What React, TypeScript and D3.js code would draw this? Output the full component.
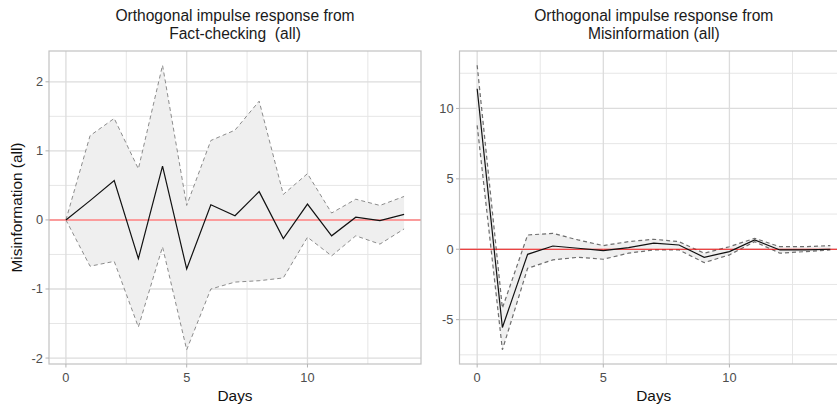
import * as d3 from 'd3'

// impulse horizon (days)
const days = [0, 1, 2, 3, 4, 5, 6, 7, 8, 9, 10, 11, 12, 13, 14]

// response of Misinformation to a Fact-checking shock
const fcIrf = [0, 0.28, 0.57, -0.56, 0.78, -0.71, 0.22, 0.06, 0.41, -0.27, 0.23, -0.23, 0.04, -0.01, 0.08]
const fcLower = [0, -0.67, -0.6, -1.55, -0.39, -1.88, -1.0, -0.9, -0.88, -0.84, -0.25, -0.52, -0.23, -0.35, -0.13]
const fcUpper = [0, 1.22, 1.47, 0.74, 2.24, 0.21, 1.15, 1.3, 1.72, 0.37, 0.67, 0.1, 0.3, 0.21, 0.34]

// response of Misinformation to its own shock
const misIrf = [11.4, -5.56, -0.36, 0.23, 0.07, -0.1, 0.11, 0.43, 0.3, -0.57, -0.17, 0.66, -0.05, -0.05, 0.0]
const misLower = [8.8, -7.14, -1.35, -0.76, -0.57, -0.71, -0.28, -0.05, -0.05, -0.95, -0.4, 0.54, -0.28, -0.17, -0.05]
const misUpper = [13.07, -4.18, 1.01, 1.13, 0.66, 0.26, 0.54, 0.71, 0.54, -0.28, 0.18, 0.78, 0.18, 0.18, 0.26]

const xTicks = [0, 5, 10]
const xMinor = [2.5, 7.5, 12.5]
const fcYTicks = [-2, -1, 0, 1, 2]
const fcYMinor = [-1.5, -0.5, 0.5, 1.5]
const misYTicks = [-5, 0, 5, 10]
const misYMinor = [-7.5, -2.5, 2.5, 7.5, 12.5]

const font = '"Liberation Sans", Arial, sans-serif'
const top = 51
const bottom = 364

function Panel({ x0, x1, title, irf, lower, upper, yTicks, yMinor, yLabel, zeroColor, zeroWidth, dashColor, dashWidth }) {
  const x = d3.scaleLinear().domain([-0.7, 14.7]).range([x0, x1])
  const lo = d3.min(lower)
  const hi = d3.max(upper)
  const pad = (hi - lo) * 0.05
  const y = d3.scaleLinear().domain([lo - pad, hi + pad]).range([bottom, top])

  const band = d3.area()
    .x((d, i) => x(days[i]))
    .y0((d, i) => y(lower[i]))
    .y1((d, i) => y(upper[i]))
  const line = d3.line().x((d, i) => x(days[i])).y(d => y(d))
  const cx = (x0 + x1) / 2

  return (
    <g fontFamily={font}>
      <text x={cx} y={21} textAnchor="middle" fontSize={15.6} fill="#1a1a1a" style={{ whiteSpace: 'pre' }}>{title[0]}</text>
      <text x={cx} y={39} textAnchor="middle" fontSize={15.6} fill="#1a1a1a" style={{ whiteSpace: 'pre' }}>{title[1]}</text>

      {yMinor.map(t => (
        <line key={'ym' + t} x1={x0} x2={x1} y1={y(t)} y2={y(t)} stroke="#e6e6e6" strokeWidth={1} />
      ))}
      {xMinor.map(t => (
        <line key={'xm' + t} x1={x(t)} x2={x(t)} y1={top} y2={bottom} stroke="#e6e6e6" strokeWidth={1} />
      ))}
      {yTicks.map(t => (
        <line key={'y' + t} x1={x0} x2={x1} y1={y(t)} y2={y(t)} stroke="#dcdcdc" strokeWidth={1.3} />
      ))}
      {xTicks.map(t => (
        <line key={'x' + t} x1={x(t)} x2={x(t)} y1={top} y2={bottom} stroke="#dcdcdc" strokeWidth={1.3} />
      ))}

      <path d={band(irf)} fill="#efefef" />
      <path d={line(lower)} fill="none" stroke={dashColor} strokeWidth={dashWidth} strokeDasharray="4,3" />
      <path d={line(upper)} fill="none" stroke={dashColor} strokeWidth={dashWidth} strokeDasharray="4,3" />
      <line x1={x0} x2={x1} y1={y(0)} y2={y(0)} stroke={zeroColor} strokeWidth={zeroWidth} />
      <path d={line(irf)} fill="none" stroke="#111" strokeWidth={1.2} />

      <rect x={x0} y={top} width={x1 - x0} height={bottom - top} fill="none" stroke="#c2c2c2" strokeWidth={1.2} />

      {yTicks.map(t => (
        <g key={'yt' + t}>
          <line x1={x0 - 3.5} x2={x0} y1={y(t)} y2={y(t)} stroke="#b3b3b3" />
          <text x={x0 - 6} y={y(t)} dy="0.35em" textAnchor="end" fontSize={12.8} fill="#4d4d4d">{t}</text>
        </g>
      ))}
      {xTicks.map(t => (
        <g key={'xt' + t}>
          <line x1={x(t)} x2={x(t)} y1={bottom} y2={bottom + 3.5} stroke="#b3b3b3" />
          <text x={x(t)} y={bottom + 18} textAnchor="middle" fontSize={12.8} fill="#4d4d4d">{t}</text>
        </g>
      ))}

      <text x={cx} y={401} textAnchor="middle" fontSize={15.4} fill="#111">Days</text>
      {yLabel && (
        <text transform={`translate(22,${(top + bottom) / 2}) rotate(-90)`} textAnchor="middle" fontSize={15.4} fill="#111">{yLabel}</text>
      )}
    </g>
  )
}

export default function App() {
  return (
    <svg width={837} height={409} style={{ position: 'absolute', left: 0, top: 0, background: '#fff' }}>
      <rect width={837} height={409} fill="#fff" />
      <Panel
        x0={49} x1={421}
        title={['Orthogonal impulse response from', 'Fact-checking  (all)']}
        irf={fcIrf} lower={fcLower} upper={fcUpper}
        yTicks={fcYTicks} yMinor={fcYMinor}
        yLabel="Misinformation (all)"
        zeroColor="#ff8080" zeroWidth={1.6}
        dashColor="#8c8c8c" dashWidth={1}
      />
      <Panel
        x0={459.5} x1={848}
        title={['Orthogonal impulse response from', 'Misinformation (all)']}
        irf={misIrf} lower={misLower} upper={misUpper}
        yTicks={misYTicks} yMinor={misYMinor}
        yLabel={null}
        zeroColor="#f01010" zeroWidth={1.2}
        dashColor="#6e6e6e" dashWidth={1.2}
      />
    </svg>
  )
}
